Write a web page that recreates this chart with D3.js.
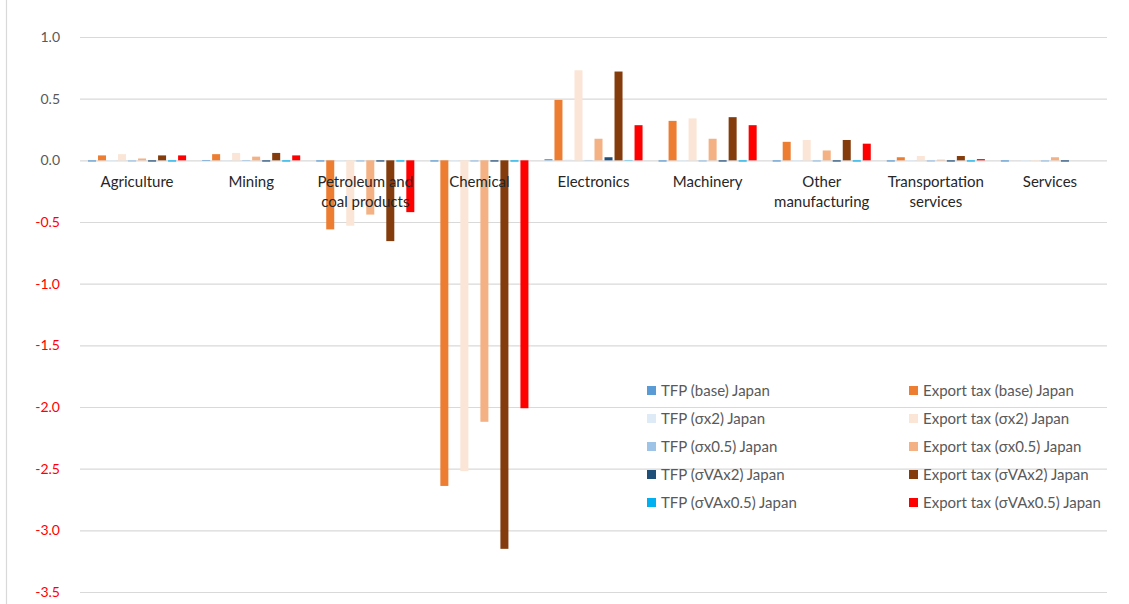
<!DOCTYPE html>
<html>
<head>
<meta charset="utf-8">
<script src="https://cdn.jsdelivr.net/npm/d3@7"></script>
<style>
  html, body { margin: 0; padding: 0; background: #ffffff; }
  svg { display: block; font-family: Lato, "Liberation Sans", sans-serif; }
</style>
</head>
<body>
<svg id="chart" width="1129" height="604"></svg>
<script>
// Sectors along the horizontal axis
const categories = ["Agriculture", "Mining", "Petroleum and\ncoal products", "Chemical",
  "Electronics", "Machinery", "Other\nmanufacturing", "Transportation\nservices", "Services"];

// Series names, in legend order
const seriesNames = [
  "TFP (base) Japan", "Export tax (base) Japan",
  "TFP (σx2) Japan", "Export tax (σx2) Japan",
  "TFP (σx0.5) Japan", "Export tax (σx0.5) Japan",
  "TFP (σVAx2) Japan", "Export tax (σVAx2) Japan",
  "TFP (σVAx0.5) Japan", "Export tax (σVAx0.5) Japan"
];

const seriesColors = [
  "#5b9bd5", "#ed7d31",
  "#deebf7", "#fbe5d6",
  "#9dc3e6", "#f4b183",
  "#1f4e79", "#843c0c",
  "#00b0f0", "#ff0000"
];

// Values by sector for each series
const tfpBase      = [-0.01, -0.005, -0.01, -0.01, 0.01, -0.01, -0.01, -0.01, -0.01];
const exportBase   = [0.04, 0.05, -0.56, -2.64, 0.49, 0.32, 0.15, 0.025, 0.0];
const tfpSx2       = [-0.005, -0.003, -0.005, -0.005, 0.005, -0.005, -0.005, -0.005, -0.005];
const exportSx2    = [0.05, 0.06, -0.53, -2.52, 0.73, 0.34, 0.165, 0.035, -0.005];
const tfpSx05      = [-0.01, -0.005, -0.01, -0.01, 0.003, -0.01, -0.01, -0.01, -0.01];
const exportSx05   = [0.015, 0.03, -0.44, -2.12, 0.175, 0.175, 0.08, 0.005, 0.025];
const tfpSVAx2     = [-0.01, -0.01, -0.01, -0.01, 0.025, -0.01, -0.01, -0.01, -0.01];
const exportSVAx2  = [0.04, 0.06, -0.655, -3.15, 0.72, 0.35, 0.165, 0.035, 0.0];
const tfpSVAx05    = [-0.01, -0.01, -0.01, -0.01, 0.003, -0.01, -0.01, -0.01, 0.0];
const exportSVAx05 = [0.04, 0.04, -0.42, -2.01, 0.285, 0.285, 0.135, 0.01, 0.0];

const seriesValues = [tfpBase, exportBase, tfpSx2, exportSx2, tfpSx05, exportSx05,
  tfpSVAx2, exportSVAx2, tfpSVAx05, exportSVAx05];

const yTicks = [1.0, 0.5, 0.0, -0.5, -1.0, -1.5, -2.0, -2.5, -3.0, -3.5];

const svg = d3.select("#chart");
const plot = { left: 80, right: 1107, top: 37, bottom: 592 };

// Outer chart frame edge on the left
svg.append("line")
  .attr("x1", 6.5).attr("x2", 6.5).attr("y1", 0).attr("y2", 604)
  .attr("stroke", "#d9d9d9").attr("stroke-width", 1.2);

const y = d3.scaleLinear().domain([-3.5, 1.0]).range([plot.bottom, plot.top]);
const x0 = d3.scaleBand().domain(categories).range([plot.left, plot.right]).padding(0);
const x1 = d3.scaleBand().domain(d3.range(seriesNames.length))
  .range([0, x0.bandwidth()]).paddingInner(0.2).paddingOuter(0.8);

// Horizontal gridlines and tick labels (plain hyphen for negatives)
const fmt = d3.format(".1f");
const yAxis = d3.axisLeft(y).tickValues(yTicks)
  .tickSize(-(plot.right - plot.left)).tickPadding(20)
  .tickFormat(d => fmt(d).replace("\u2212", "-"));
const gy = svg.append("g").attr("transform", `translate(${plot.left},0)`).call(yAxis);
gy.select(".domain").remove();
gy.selectAll(".tick line").attr("stroke", "#d9d9d9").attr("stroke-width", 1.2);
gy.selectAll(".tick text")
  .attr("font-size", 14)
  .attr("font-family", "Lato, 'Liberation Sans', sans-serif")
  .attr("fill", d => d < 0 ? "#ff0000" : "#595959");

// Bars
const groups = svg.append("g").selectAll("g")
  .data(categories)
  .join("g")
  .attr("transform", d => `translate(${x0(d)},0)`);

groups.selectAll("rect")
  .data((c, ci) => seriesValues.map((vals, si) => ({ si, v: vals[ci] })))
  .join("rect")
  .attr("x", d => x1(d.si))
  .attr("width", x1.bandwidth())
  .attr("y", d => y(Math.max(0, d.v)))
  .attr("height", d => Math.abs(y(d.v) - y(0)))
  .attr("fill", d => seriesColors[d.si]);

// Category labels just below the zero line
const labels = svg.append("g").selectAll("text")
  .data(categories)
  .join("text")
  .attr("x", d => x0(d) + x0.bandwidth() / 2)
  .attr("y", y(0) + 27)
  .attr("text-anchor", "middle")
  .attr("font-size", 15)
  .attr("fill", "#262626");
labels.selectAll("tspan")
  .data(d => d.split("\n"))
  .join("tspan")
  .attr("x", function () { return d3.select(this.parentNode).attr("x"); })
  .attr("dy", (d, i) => i === 0 ? 0 : 20)
  .text(d => d);

// Legend, two columns read row by row
const legendCols = [647, 909];
const legendRow0 = 390.5, legendStep = 28;
const legend = svg.append("g").selectAll("g")
  .data(seriesNames)
  .join("g")
  .attr("transform", (d, i) =>
    `translate(${legendCols[i % 2]},${legendRow0 + Math.floor(i / 2) * legendStep})`);
legend.append("rect")
  .attr("x", 0).attr("y", -4.5).attr("width", 9).attr("height", 9)
  .attr("fill", (d, i) => seriesColors[i]);
legend.append("text")
  .attr("x", 14).attr("y", 0).attr("dy", "0.35em")
  .attr("font-size", 15)
  .attr("fill", "#595959")
  .text(d => d);
</script>
</body>
</html>
